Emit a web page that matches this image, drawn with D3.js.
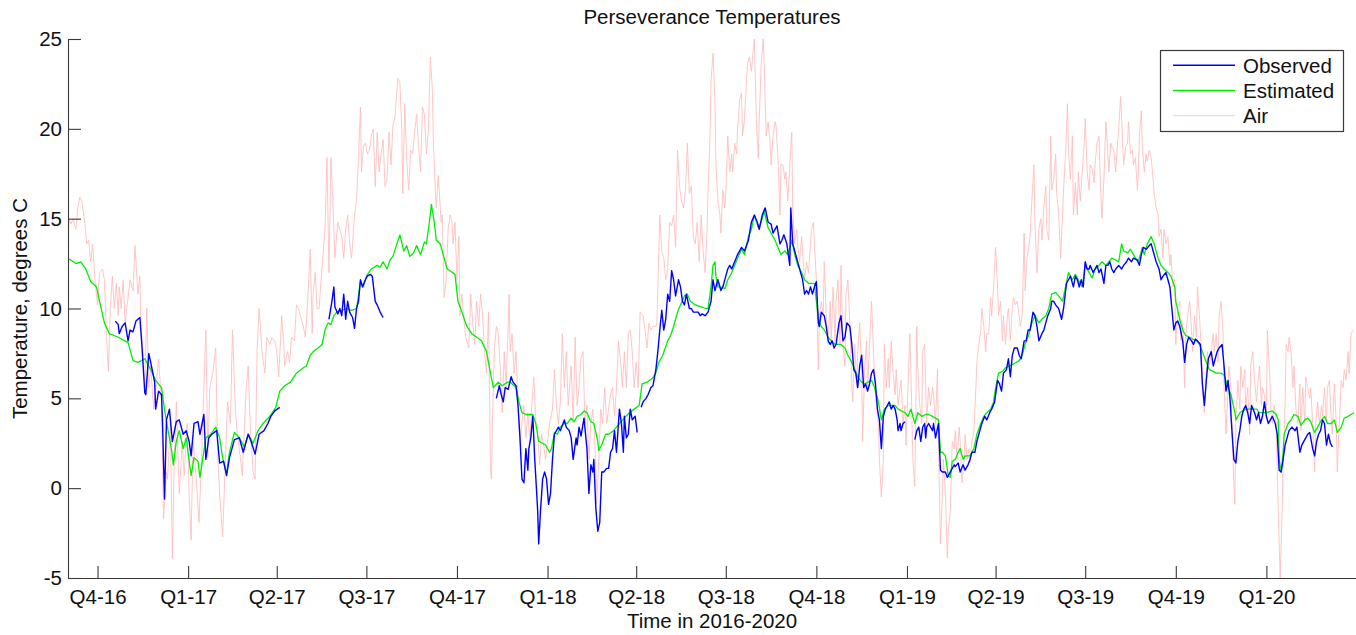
<!DOCTYPE html>
<html><head><meta charset="utf-8">
<script src="https://cdn.jsdelivr.net/npm/d3@7"></script>
<style>
body{margin:0;background:#fff}
svg{display:block}
text{font-family:"Liberation Sans",Arial,Helvetica,sans-serif;fill:#111}
</style>
</head><body>
<svg id="chart" width="1356" height="635"></svg>
<script>
// ---------- data ----------
const title = "Perseverance Temperatures";
const xLabel = "Time in 2016-2020";
const yLabel = "Temperature, degrees C";
const startDate = "2016-09-01";   // day 0 of every series
const endDate = "2020-04-01";
const quarterLabels = ["Q4-16","Q1-17","Q2-17","Q3-17","Q4-17","Q1-18","Q2-18","Q3-18","Q4-18","Q1-19","Q2-19","Q3-19","Q4-19","Q1-20"];
const yTicks = [-5,0,5,10,15,20,25];
const seriesNames = ["Observed","Estimated","Air"];

// [day since startDate, temperature °C]; null = no record
const observed = [
[48,9.3],[51,9.1],[52,8.6],[55,9.0],[58,9.2],[61,8.2],[63,8.8],[66,8.7],[69,9.3],[73,9.5],[75,8.0],[78,5.3],[79,5.2],[82,7.5],[84,7.0],[88,5.9],[89,4.4],[92,5.4],[95,5.2],[96,3.6],[98,-0.6],[100,3.8],[103,4.4],[106,2.6],[110,3.7],[113,3.8],[117,3.0],[120,3.2],[123,2.6],[125,1.8],[128,3.6],[132,3.7],[134,3.0],[138,4.1],[140,1.6],[143,2.8],[146,3.0],[151,3.2],[154,1.4],[158,1.5],[161,0.7],[164,1.7],[169,2.7],[174,2.8],[178,2.0],[183,3.0],[186,2.6],[190,1.9],[194,3.0],[199,3.2],[203,3.6],[206,4.0],[210,4.3],[215,4.5],
[240,null],
[265,9.4],[268,10.4],[270,11.2],[271,10.1],[274,9.7],[276,10.0],[278,9.6],[280,10.8],[282,9.4],[284,10.4],[286,9.8],[289,9.5],[291,8.9],[293,10.0],[295,10.4],[297,11.6],[299,11.2],[302,11.6],[304,11.8],[307,11.9],[309,11.8],[312,10.4],[314,10.2],[317,9.8],[320,9.5],
[380,null],
[435,5.0],[438,5.7],[440,5.2],[442,4.8],[444,5.6],[447,5.5],[450,6.2],[452,5.9],[455,5.7],[457,4.6],[459,2.8],[461,0.5],[463,0.3],[465,2.2],[467,1.0],[468,2.2],[470,2.8],[472,4.0],[474,1.6],[476,-0.3],[477,-1.3],[478,-3.1],[480,-1.1],[482,0.5],[484,0.9],[486,0.5],[488,-0.9],[490,-0.3],[492,1.6],[494,3.0],[498,3.4],[500,3.2],[504,3.8],[506,3.4],[509,3.2],[511,2.8],[513,1.6],[516,2.8],[517,2.4],[519,3.4],[521,2.9],[524,3.9],[527,2.2],[529,-0.3],[531,1.3],[533,0.9],[534,1.6],[536,-1.1],[538,-2.4],[540,-1.9],[542,0.9],[544,0.9],[547,1.1],[549,1.1],[551,2.0],[553,2.2],[555,3.2],[557,2.0],[560,4.4],[562,3.6],[564,2.0],[565,4.0],[567,2.8],[569,3.0],[571,4.4],[573,3.8],[576,4.0],[578,3.1],
[580,null],
[582,4.5],[584,4.8],[587,5.0],[589,5.2],[592,5.6],[594,5.7],[597,6.6],[599,7.6],[601,8.8],[603,9.9],[605,8.8],[607,9.4],[609,10.8],[611,10.4],[613,12.1],[615,11.6],[617,10.7],[620,11.6],[622,11.2],[624,10.4],[626,10.2],[628,10.8],[631,10.0],[633,10.0],[635,9.8],[637,9.8],[640,9.8],[642,9.6],[644,9.7],[647,9.6],[650,9.8],[653,10.4],[655,11.6],[657,11.0],[660,11.6],[663,11.0],[665,11.2],[668,11.8],[670,12.2],[672,12.4],[674,12.2],[677,12.6],[680,13.0],[684,13.4],[687,13.2],[691,13.8],[694,14.8],[697,15.2],[700,14.8],[702,14.4],[705,15.2],[708,15.6],[711,14.8],[714,14.7],[716,14.2],[718,14.4],[720,14.6],[723,13.6],[725,13.8],[727,14.1],[730,13.6],[733,12.4],[734,15.6],[736,13.6],[738,13.2],[740,12.8],[742,12.4],[744,12.0],[746,11.6],[748,10.8],[750,11.0],[752,10.8],[754,11.2],[756,10.8],[758,11.2],[760,11.5],[762,9.2],[763,9.0],[765,9.8],[768,9.6],[770,9.0],[772,8.2],[774,8.0],[776,8.2],[778,7.8],[780,8.0],[783,9.2],[785,9.6],[787,8.2],[789,8.4],[791,9.2],[794,9.0],[796,8.0],[798,6.6],[800,6.4],[802,5.6],[804,6.8],[806,7.4],[808,5.6],[810,5.8],[812,5.4],[814,5.8],[816,6.4],[818,6.6],[820,5.8],[822,4.4],[824,3.8],[826,2.2],[828,4.0],[830,4.4],[832,4.6],[834,4.8],[836,4.4],[838,4.6],[840,4.4],[842,3.8],[843,3.2],[845,3.6],[846,3.2],[848,3.6],[850,3.7],
[855,null],
[860,2.7],[862,3.2],[864,3.4],[866,2.6],[868,3.4],[870,3.6],[871,2.8],[872,3.4],[874,3.6],[876,3.4],[878,3.2],[879,3.6],[881,2.8],[884,3.6],[886,1.0],[888,0.9],[891,0.9],[893,0.6],[894,0.7],[897,1.0],[900,1.3],[901,1.2],[904,1.4],[906,0.9],[909,1.3],[911,1.0],[914,1.3],[916,1.6],[918,2.0],[921,2.0],[923,2.6],[926,3.2],[928,3.6],[931,4.0],[933,3.8],[936,4.2],[938,4.4],[941,4.8],[944,6.0],[946,5.8],[948,5.4],[950,6.4],[953,6.6],[955,7.2],[957,6.2],[959,7.4],[961,7.8],[964,7.8],[966,7.4],[968,7.2],[971,8.2],[973,8.2],[975,8.8],[977,8.8],[980,9.8],[982,9.6],[984,9.0],[986,8.2],[989,8.6],[991,8.8],[993,9.2],[995,9.6],[998,10.0],[999,10.4],[1001,10.4],[1003,10.2],[1006,10.0],[1009,9.4],[1011,10.0],[1014,11.4],[1016,11.6],[1018,11.8],[1020,11.4],[1021,11.2],[1023,11.8],[1025,11.6],[1027,11.2],[1029,11.6],[1031,11.2],[1033,12.6],[1035,12.2],[1037,12.2],[1038,12.4],[1041,12.0],[1043,12.2],[1045,12.4],[1047,12.0],[1049,12.2],[1052,11.4],[1054,12.4],[1056,12.4],[1058,12.6],[1060,12.2],[1062,12.0],[1064,12.2],[1067,12.4],[1070,12.2],[1072,12.4],[1075,12.6],[1077,12.8],[1080,12.6],[1082,12.8],[1086,12.7],[1088,12.4],[1090,13.0],[1092,13.4],[1095,13.3],[1098,13.5],[1100,13.6],[1102,13.2],[1105,12.6],[1108,12.2],[1110,11.6],[1112,11.8],[1115,12.0],[1117,11.6],[1119,11.2],[1121,10.0],[1123,8.8],[1125,9.2],[1127,9.3],[1129,9.0],[1132,8.2],[1134,7.0],[1136,8.0],[1138,8.4],[1141,8.2],[1143,8.0],[1145,8.3],[1147,8.2],[1150,8.0],[1152,5.8],[1154,4.6],[1156,6.0],[1158,7.2],[1161,7.6],[1163,6.8],[1165,7.2],[1167,7.6],[1169,7.8],[1172,8.0],[1174,6.8],[1176,5.4],[1178,6.0],[1180,5.0],[1182,3.2],[1184,1.6],[1186,1.4],[1188,2.6],[1190,3.2],[1192,4.0],[1194,4.4],[1196,4.6],[1198,4.2],[1200,3.6],[1202,4.6],[1205,4.2],[1207,3.8],[1209,4.2],[1211,3.6],[1213,4.0],[1215,4.8],[1217,4.0],[1219,3.6],[1221,3.8],[1223,4.0],[1226,3.6],[1228,3.0],[1230,1.0],[1232,0.9],[1234,1.6],[1236,2.4],[1238,2.8],[1240,3.2],[1243,3.4],[1246,3.2],[1248,3.4],[1251,2.0],[1253,2.4],[1255,2.6],[1257,2.8],[1259,3.0],[1261,3.1],[1264,2.2],[1266,1.8],[1268,2.6],[1270,3.0],[1272,3.2],[1274,3.8],[1276,3.6],[1278,2.4],[1280,3.0],[1282,2.5],[1284,2.3]
];

const estimated = [
[0,12.8],[8,12.5],[13,12.6],[18,12.2],[23,11.5],[29,11.2],[32,10.4],[37,9.2],[42,8.6],[51,8.4],[61,8.1],[66,7.1],[71,7.0],[78,7.2],[84,6.6],[89,6.0],[95,5.6],[98,4.4],[101,3.4],[105,2.2],[107,1.3],[110,2.6],[113,3.2],[117,2.2],[120,2.8],[125,0.7],[128,1.7],[132,1.5],[134,0.6],[137,1.7],[140,2.8],[145,3.0],[150,3.4],[154,2.8],[157,1.7],[161,0.8],[164,2.0],[169,3.1],[174,2.8],[179,2.3],[183,3.0],[188,2.5],[193,3.2],[198,3.6],[205,4.0],[211,4.5],[215,5.4],[220,5.7],[226,5.9],[232,6.4],[239,6.7],[242,6.8],[246,7.4],[249,7.6],[254,7.8],[258,8.0],[261,8.8],[264,9.2],[267,9.1],[270,9.6],[273,9.8],[278,9.9],[283,10.0],[288,9.9],[293,10.0],[297,11.5],[300,11.2],[303,11.8],[308,12.2],[314,12.4],[317,12.3],[320,12.6],[324,12.2],[327,12.7],[330,12.9],[334,13.6],[337,14.1],[341,13.2],[344,13.5],[347,12.9],[351,13.1],[354,13.5],[358,13.0],[362,13.7],[364,13.6],[367,14.8],[369,15.8],[372,14.8],[374,13.8],[378,13.6],[381,13.0],[385,12.2],[388,12.1],[393,11.9],[396,10.4],[400,9.8],[405,9.0],[410,8.6],[415,8.4],[420,8.2],[425,7.6],[429,6.4],[432,5.6],[437,5.9],[441,5.7],[446,5.9],[449,5.9],[451,5.8],[455,5.6],[458,4.8],[461,4.2],[465,4.1],[468,4.1],[472,4.1],[475,3.6],[478,2.6],[482,2.5],[485,2.4],[489,2.0],[491,2.2],[494,3.1],[497,3.0],[500,3.4],[504,3.6],[507,3.6],[511,3.9],[514,3.7],[517,4.0],[521,4.1],[524,4.3],[527,4.2],[531,3.7],[534,3.6],[538,2.6],[539,2.1],[542,2.4],[546,3.0],[549,3.0],[554,3.2],[560,3.6],[565,3.9],[570,4.2],[575,4.4],[580,4.6],[583,5.8],[588,5.9],[593,6.1],[597,6.4],[600,7.0],[604,7.4],[609,8.2],[612,8.5],[615,9.0],[619,9.8],[622,10.2],[626,10.7],[629,10.8],[632,10.4],[637,10.2],[642,10.1],[648,10.0],[650,10.0],[653,11.2],[655,12.4],[657,12.6],[658,11.8],[660,11.2],[663,11.2],[667,11.1],[670,11.6],[674,12.0],[677,12.4],[680,12.8],[684,13.3],[687,13.0],[691,14.0],[694,14.4],[697,15.2],[701,14.5],[704,14.8],[707,15.4],[711,14.5],[714,14.2],[718,13.8],[721,13.4],[724,13.0],[728,13.2],[731,13.0],[735,13.8],[738,13.0],[741,12.4],[745,12.0],[748,11.6],[752,11.4],[758,11.4],[762,9.4],[765,9.0],[768,8.8],[772,8.4],[775,8.2],[779,8.0],[785,8.0],[789,7.8],[792,7.4],[796,7.0],[799,6.6],[802,6.2],[806,5.9],[809,5.8],[816,6.0],[819,5.6],[823,4.8],[826,3.8],[829,4.4],[833,4.6],[840,4.6],[843,4.4],[850,4.2],[853,4.0],[856,4.4],[860,3.6],[863,4.2],[867,4.0],[871,4.1],[874,4.1],[878,4.0],[881,3.9],[884,3.8],[886,2.0],[888,2.0],[891,1.8],[894,0.7],[896,0.6],[898,1.5],[901,1.6],[904,2.0],[906,2.2],[909,1.6],[911,1.8],[916,1.8],[920,2.2],[923,3.0],[927,3.6],[930,4.0],[933,4.2],[937,4.4],[940,4.8],[942,5.6],[945,6.4],[949,6.5],[952,6.7],[956,6.8],[960,6.9],[966,7.1],[969,7.4],[972,8.0],[976,8.6],[979,9.2],[982,9.6],[986,9.2],[989,9.4],[993,9.6],[996,10.0],[999,10.8],[1003,10.9],[1006,10.7],[1010,10.4],[1013,11.2],[1016,12.0],[1020,11.6],[1023,11.9],[1026,11.6],[1030,11.2],[1033,12.4],[1037,12.0],[1040,11.7],[1043,12.2],[1047,12.4],[1050,12.6],[1054,12.4],[1057,12.6],[1060,12.8],[1064,12.7],[1067,12.6],[1070,13.6],[1072,13.2],[1076,13.1],[1079,13.3],[1082,13.0],[1086,12.6],[1088,12.8],[1091,13.4],[1093,13.0],[1096,13.6],[1100,14.0],[1103,13.6],[1107,12.8],[1110,12.4],[1113,12.2],[1117,12.0],[1120,11.8],[1124,11.2],[1125,10.4],[1129,9.4],[1132,8.8],[1135,8.5],[1139,8.4],[1142,8.3],[1146,8.2],[1149,8.0],[1152,7.6],[1156,7.0],[1159,6.6],[1163,6.5],[1166,6.4],[1171,6.4],[1174,6.3],[1178,5.6],[1181,5.2],[1185,4.2],[1186,3.8],[1190,4.2],[1193,4.3],[1196,4.4],[1207,4.4],[1210,4.2],[1217,4.2],[1223,4.3],[1227,4.1],[1229,3.8],[1230,1.6],[1232,0.9],[1234,2.0],[1235,3.0],[1239,3.6],[1242,3.8],[1245,4.1],[1249,4.0],[1252,3.5],[1256,3.8],[1259,3.9],[1262,3.7],[1266,3.1],[1269,3.4],[1273,3.8],[1276,4.0],[1279,3.6],[1283,3.6],[1286,3.8],[1289,3.1],[1293,3.4],[1296,3.9],[1300,4.0],[1303,4.1],[1306,4.2]
];

const air = [
[0,13.8],[1,15.0],[3,14.7],[5,15.0],[8,14.4],[10,15.6],[12,16.2],[14,16.0],[17,14.8],[19,13.6],[21,13.8],[23,12.6],[25,13.6],[28,11.2],[30,10.2],[32,12.0],[35,12.2],[37,11.6],[39,8.6],[41,6.5],[43,10.0],[45,11.8],[47,10.0],[49,11.4],[51,9.6],[52,11.2],[54,10.0],[56,11.6],[58,9.2],[61,10.6],[63,11.6],[66,11.0],[68,13.5],[71,10.8],[73,11.8],[74,9.0],[76,7.6],[78,5.6],[80,10.0],[82,5.6],[84,6.8],[87,4.4],[89,5.4],[92,7.2],[95,4.7],[97,-1.7],[100,0.9],[101,0.5],[104,3.6],[106,-3.9],[108,1.7],[110,4.8],[113,-0.3],[116,2.6],[118,0.7],[121,3.6],[123,-0.3],[125,-2.9],[127,2.6],[130,0.7],[133,-1.9],[135,0.7],[138,5.6],[140,8.8],[142,1.7],[144,5.6],[147,6.4],[150,7.8],[152,1.7],[154,-0.3],[157,-2.7],[160,1.7],[162,4.8],[165,3.6],[167,8.8],[170,4.4],[172,3.0],[175,1.7],[177,0.7],[181,5.6],[183,6.8],[185,3.6],[188,0.9],[190,0.5],[192,7.6],[194,10.0],[197,7.6],[200,6.4],[202,8.4],[205,8.0],[207,8.4],[210,8.2],[212,7.6],[214,6.2],
[217,9.6],[219,8.2],[220,6.8],[223,7.6],[225,7.0],[227,8.4],[230,8.2],[232,10.2],[234,10.0],[236,9.6],[239,9.0],[241,8.4],[243,10.0],[246,13.3],[248,8.6],[249,10.8],[251,12.0],[253,10.0],[255,10.0],[257,11.6],[259,13.0],[261,14.4],[263,18.4],[265,12.0],[267,18.4],[269,16.0],[271,12.8],[274,14.8],[276,14.4],[278,14.0],[280,12.8],[282,14.4],[284,15.2],[286,13.6],[288,12.8],[291,15.2],[293,16.0],[295,18.4],[297,21.2],[298,17.6],[300,19.0],[302,19.2],[304,18.6],[306,18.8],[308,19.6],[310,20.0],[312,16.8],[314,19.8],[316,17.6],[318,18.6],[320,19.4],[322,16.8],[324,17.2],[326,19.8],[328,18.0],[330,20.2],[332,20.6],[335,22.8],[337,22.6],[339,20.0],[340,16.4],[342,21.4],[344,18.2],[346,16.6],[348,18.8],[350,18.6],[352,19.8],[354,20.8],[356,19.0],[358,17.6],[360,21.2],[362,20.8],[364,18.6],[366,20.0],[368,24.0],[370,22.2],[371,19.4],[373,16.6],[374,15.6],[376,17.4],[379,14.8],[380,15.2],[382,10.6],[384,11.6],[386,14.4],[388,15.2],[390,14.8],[391,13.6],[393,14.8],[395,11.6],[397,14.0],[398,9.6],[400,10.8],[402,9.4],[404,8.4],[407,7.8],[409,10.8],[411,9.2],[413,8.0],[415,10.4],[417,9.0],[419,10.8],[421,9.6],[423,7.6],[425,6.4],[427,9.8],[429,1.1],[430,0.5],[431,3.6],[433,7.6],[435,9.0],
[437,8.6],[439,6.6],[441,4.2],[443,7.6],[445,5.6],[448,10.8],[449,7.6],[451,8.6],[453,6.4],[455,7.6],[457,4.6],[459,2.6],[461,3.6],[463,4.6],[465,2.8],[467,4.2],[469,2.6],[471,4.6],[473,6.2],[475,3.8],[477,3.0],[479,1.3],[481,3.0],[483,2.4],[485,1.6],[487,2.6],[489,3.6],[492,4.4],[494,6.6],[496,4.6],[498,3.6],[500,4.8],[502,8.6],[504,5.6],[506,7.6],[508,4.6],[511,6.8],[513,3.6],[515,8.4],[517,4.6],[519,5.6],[521,7.2],[523,7.6],[525,3.6],[527,4.6],[529,1.6],[531,3.6],[533,4.4],[535,2.6],[537,-0.9],[539,1.6],[541,4.4],[543,3.6],[545,5.6],[547,3.6],[549,4.4],[551,5.2],[553,5.6],[555,4.0],[557,5.6],[559,8.2],[561,7.2],[563,5.6],[565,7.6],[567,5.6],[569,8.6],[571,8.8],[573,7.6],[575,5.6],[577,7.0],[579,5.6],[581,9.8],[584,9.6],[586,8.8],[588,7.8],[590,9.2],[592,8.8],[594,9.0],[597,9.0],[598,9.2],[601,15.2],[603,13.2],[605,12.8],[607,11.6],[609,12.2],[611,14.8],[613,14.6],[615,15.2],[617,13.4],[619,18.8],[621,16.8],[623,16.0],[625,15.6],[627,16.6],[629,19.2],[631,16.4],[633,16.8],[635,14.0],[637,13.6],[639,14.8],[641,12.6],[643,15.2],[645,13.2],[647,12.0],[649,14.4],
[650,16.6],[652,19.6],[653,22.6],[655,24.2],[657,21.6],[658,18.0],[660,16.0],[662,15.2],[663,14.2],[665,16.6],[667,15.6],[668,16.4],[670,19.6],[672,17.6],[674,18.6],[675,17.6],[677,19.2],[679,18.6],[680,20.0],[682,21.6],[684,22.0],[685,19.6],[687,20.6],[689,22.6],[690,23.6],[692,24.0],[694,23.2],[696,24.4],[697,25.0],[699,20.6],[701,18.4],[702,20.6],[704,23.6],[706,25.0],[707,23.6],[709,19.6],[711,20.4],[713,19.2],[714,18.0],[716,19.6],[718,20.4],[719,20.2],[721,18.4],[723,15.2],[724,18.0],[726,18.0],[728,17.2],[729,17.6],[731,16.0],[733,18.0],[735,19.8],[736,15.6],[738,13.6],[740,14.4],[741,13.6],[743,12.6],[745,14.0],[746,13.2],[748,11.6],[750,12.6],[752,12.0],[753,12.8],[755,14.4],[757,14.8],[758,13.6],[760,11.6],[762,6.6],[763,9.6],[765,10.4],[767,9.6],[768,12.6],[770,9.6],[772,8.0],[774,10.4],[775,8.0],[777,11.2],[779,8.2],[780,10.4],[782,11.6],[784,8.0],[785,12.4],[787,8.0],[789,6.8],[790,10.8],[792,11.6],[794,9.2],[796,5.6],[797,4.8],[799,8.0],[801,5.6],[802,7.6],[804,9.2],[806,6.4],[807,2.6],[809,6.6],[811,8.2],[812,5.6],[814,8.0],[816,10.4],[818,7.6],[819,6.4],[821,4.6],[823,3.6],[824,1.6],[826,-0.5],[828,1.6],[829,8.0],[831,5.6],[833,7.2],[834,5.6],[836,8.2],[838,6.4],[840,5.2],[841,6.6],[843,4.6],[845,5.6],[846,6.0],[848,3.6],[850,4.6],[851,2.4],[853,5.6],[855,8.6],[856,6.4],[858,1.6],[860,0.1],[862,9.0],[863,6.6],[865,4.6],[867,3.6],[868,7.6],[870,8.0],
[871,5.6],[872,3.6],[874,5.6],[876,4.6],[878,5.6],[879,5.2],[881,3.6],[883,6.6],[884,2.6],[886,-3.1],[888,-0.3],[889,1.6],[891,-0.3],[893,-3.9],[894,-2.3],[896,-1.3],[898,2.6],[900,2.2],[901,3.2],[903,1.6],[905,3.4],[906,2.6],[908,0.3],[910,1.6],[911,3.0],[913,1.6],[915,2.2],[916,1.4],[918,2.6],[920,3.2],[922,5.6],[923,7.0],[925,8.0],[927,8.8],[928,10.0],[930,9.0],[932,7.6],[933,8.6],[935,8.6],[937,10.6],[938,9.6],[940,11.2],[942,13.4],[944,11.2],[945,9.6],[947,10.4],[949,8.2],[950,9.6],[952,8.0],[954,9.6],[955,10.0],[957,8.2],[959,10.0],[960,10.6],[962,10.2],[964,10.4],[966,9.6],[967,9.0],[969,9.6],[971,14.2],[972,11.0],[974,12.8],[976,13.6],[977,14.0],[979,16.2],[981,18.0],[982,14.6],[984,12.0],[986,14.4],[988,15.0],[989,13.8],[991,15.6],[993,16.8],[994,14.4],[996,13.8],[998,19.6],[999,16.6],[1001,17.2],[1003,18.6],[1004,16.4],[1006,15.4],[1008,12.8],[1010,15.2],[1011,16.6],[1013,18.6],[1015,21.4],[1016,18.8],[1018,17.2],[1020,19.6],[1021,15.2],[1023,17.0],[1025,15.2],[1026,17.6],[1028,16.0],[1030,17.6],[1032,19.2],[1033,20.6],[1035,17.6],[1037,16.6],[1038,18.0],[1040,17.8],[1042,17.0],[1043,18.0],[1045,19.2],[1047,19.6],[1048,17.6],[1050,15.0],[1052,17.2],[1054,20.4],[1055,19.6],[1057,17.6],[1059,19.2],[1060,19.0],[1062,18.8],[1064,17.6],[1065,18.6],[1067,20.0],[1069,21.8],[1070,20.6],[1072,18.0],[1074,19.0],[1076,19.2],[1077,20.4],[1079,18.6],[1081,18.8],[1082,18.0],[1084,18.4],[1086,16.6],[1087,17.6],
[1088,19.6],[1090,21.0],[1091,19.0],[1093,17.6],[1095,18.6],[1096,18.2],[1098,18.8],[1100,18.4],[1102,17.2],[1103,16.4],[1105,15.6],[1107,15.2],[1108,14.0],[1110,14.4],[1112,12.8],[1113,14.4],[1115,13.6],[1117,14.0],[1119,12.4],[1120,13.0],[1122,11.2],[1124,11.6],[1125,8.0],[1127,10.0],[1129,10.4],[1130,8.2],[1132,9.2],[1134,5.6],[1135,8.4],[1137,9.6],[1139,10.4],[1141,8.8],[1142,7.6],[1144,9.6],[1146,8.4],[1147,11.2],[1149,9.6],[1151,7.6],[1152,5.6],[1154,4.2],[1156,6.4],[1157,7.6],[1159,6.8],[1161,7.6],[1163,8.6],[1164,7.6],[1166,8.6],[1168,7.0],[1169,9.6],[1171,10.4],[1173,8.6],[1174,5.6],[1176,3.0],[1178,5.6],[1179,6.8],[1181,5.6],[1183,1.6],[1185,-0.9],[1186,3.6],[1188,6.0],[1190,4.4],[1191,6.8],[1193,5.6],[1195,6.6],[1196,4.4],[1198,5.6],[1200,3.0],[1201,6.8],[1203,7.6],[1205,6.0],[1207,4.8],[1208,5.6],[1210,6.8],[1212,4.6],[1213,5.6],[1215,5.2],[1217,4.0],[1218,8.8],[1220,6.6],[1222,4.0],[1223,3.6],[1225,4.6],[1227,3.6],[1229,-1.3],[1230,-3.1],[1231,-5.0],[1233,-1.3],[1234,1.6],[1236,4.6],[1237,8.0],[1239,7.6],[1240,8.4],[1242,7.6],[1244,5.6],[1245,6.8],[1247,4.4],[1249,3.6],[1251,5.8],[1252,3.2],[1254,5.6],[1256,3.6],[1257,6.2],[1259,5.6],[1261,5.0],[1262,5.6],[1264,3.6],[1266,0.9],[1267,3.6],[1269,4.8],[1271,3.6],[1273,4.6],[1274,4.0],[1276,5.6],[1278,3.6],[1279,5.6],[1281,6.0],[1283,3.6],[1284,3.0],[1286,5.8],[1288,3.6],[1289,0.9],[1291,3.6],[1293,6.0],[1295,5.6],[1296,6.6],[1298,6.0],[1300,7.6],[1301,6.4],[1303,8.6],[1305,8.8]
];

// ---------- layout / style ----------
const W = 1356, H = 635;
const plot = {left: 68, right: 1356, top: 39, bottom: 578};
const FONT = 20.5;
const colors = {Observed: "#0000ff", Estimated: "#00ee00", Air: "#ffbcbc"};
const widths = {Observed: 1.4, Estimated: 1.3, Air: 0.85};

const svg = d3.select("#chart");
const parse = d3.utcParse("%Y-%m-%d");
const t0 = parse(startDate);
const x = d3.scaleUtc().domain([t0, parse(endDate)]).range([plot.left, plot.right]);
const y = d3.scaleLinear().domain([-5, 25]).range([plot.bottom, plot.top]);
const dayToDate = d => d3.utcDay.offset(t0, d);

// quarter label "Qn-yy" -> first day of that quarter
const quarterDates = quarterLabels.map(s => {
  const q = +s[1], yy = 2000 + +s.slice(3);
  return new Date(Date.UTC(yy, (q - 1) * 3, 1));
});

const line = d3.line()
  .defined(d => d[1] != null)
  .x(d => x(dayToDate(d[0])))
  .y(d => y(d[1]));

svg.append("clipPath").attr("id", "clip")
  .append("rect").attr("x", plot.left).attr("y", plot.top - 2)
  .attr("width", plot.right - plot.left).attr("height", plot.bottom - plot.top + 2);

const g = svg.append("g").attr("clip-path", "url(#clip)");
const seriesData = {Observed: observed, Estimated: estimated, Air: air};
["Air", "Estimated", "Observed"].forEach(name => {
  g.append("path").datum(seriesData[name])
    .attr("fill", "none")
    .attr("stroke", colors[name])
    .attr("stroke-width", widths[name])
    .attr("stroke-linejoin", "round")
    .attr("d", line);
});

// axes
const xAxis = d3.axisBottom(x).tickValues(quarterDates)
  .tickFormat((d, i) => quarterLabels[i]).tickSizeInner(-12).tickSizeOuter(0).tickPadding(11);
const yAxis = d3.axisLeft(y).tickValues(yTicks)
  .tickFormat(d => String(d)).tickSizeInner(-13).tickSizeOuter(0).tickPadding(6);

const gx = svg.append("g").attr("transform", `translate(0,${plot.bottom})`).call(xAxis);
const gy = svg.append("g").attr("transform", `translate(${plot.left},0)`).call(yAxis);
[gx, gy].forEach(a => {
  a.selectAll("path,line").attr("stroke", "#3a3a3a").attr("stroke-width", 1.1);
  a.selectAll("text").attr("font-size", FONT).attr("fill", "#111")
    .style("font-family", '"Liberation Sans",Arial,sans-serif');
});

// titles
svg.append("text").attr("x", (plot.left + plot.right) / 2).attr("y", 23.5)
  .attr("text-anchor", "middle").attr("font-size", FONT).text(title);
svg.append("text").attr("x", (plot.left + plot.right) / 2).attr("y", 628)
  .attr("text-anchor", "middle").attr("font-size", FONT).text(xLabel);
svg.append("text").attr("transform", `translate(26.5,${(plot.top + plot.bottom) / 2}) rotate(-90)`)
  .attr("text-anchor", "middle").attr("font-size", FONT).text(yLabel);

// legend
const lg = svg.append("g");
lg.append("rect").attr("x", 1160.5).attr("y", 50.5).attr("width", 183).attr("height", 81)
  .attr("fill", "#fff").attr("stroke", "#3a3a3a").attr("stroke-width", 1.2);
seriesNames.forEach((name, i) => {
  const yy = 65.3 + i * 25.2;
  lg.append("line").attr("x1", 1173).attr("x2", 1235).attr("y1", yy).attr("y2", yy)
    .attr("stroke", colors[name]).attr("stroke-width", widths[name]);
  lg.append("text").attr("x", 1243).attr("y", yy + 7.4).attr("font-size", FONT).text(name);
});
</script>
</body></html>
